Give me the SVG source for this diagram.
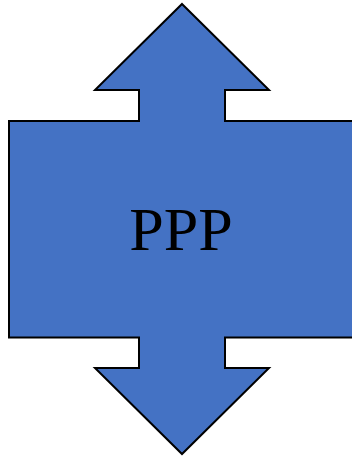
<svg xmlns="http://www.w3.org/2000/svg" width="352" height="458" viewBox="0 0 352 458">
<style>
.shape{fill:#4472c4;stroke:#000;stroke-width:2;stroke-linejoin:miter}
.label{font-family:"Liberation Serif","Times New Roman",serif;font-size:62px;fill:#000;text-anchor:middle}
</style>
<rect width="352" height="458" fill="#fff"/>
<g id="node-ppp">
<path class="shape" d="M182,4 L269,90 L225,90 L225,121 L355,121 L355,337.5 L225,337.5 L225,368 L269,368 L182,454 L95,368 L139,368 L139,337.5 L9,337.5 L9,121 L139,121 L139,90 L95,90 Z"/>
<text class="label" x="181" y="250">PPP</text>
</g>
<g id="connectors"></g>
</svg>
